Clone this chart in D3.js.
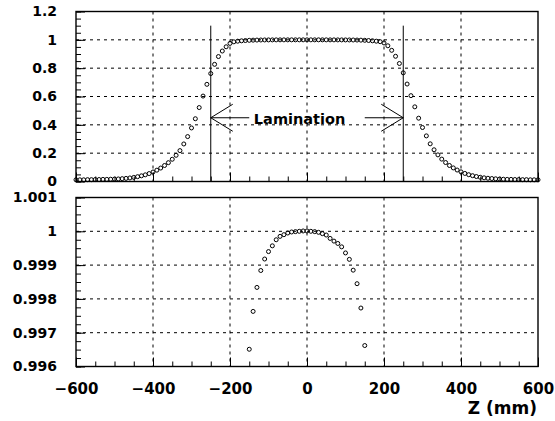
<!DOCTYPE html>
<html>
<head>
<meta charset="utf-8">
<script src="https://cdn.jsdelivr.net/npm/d3@7"></script>
<style>
  html, body { margin: 0; padding: 0; background: #fff; }
  svg { display: block; }
  text { font-family: "DejaVu Sans", sans-serif; font-weight: bold; fill: #000; }
</style>
</head>
<body>
<svg id="chart" width="555" height="421"></svg>
<script>
// ---- data ----
const zPositions = [
  -600,-590,-580,-570,-560,-550,-540,-530,-520,-510,
  -500,-490,-480,-470,-460,-450,-440,-430,-420,-410,
  -400,-390,-380,-370,-360,-350,-340,-330,-320,-310,
  -300,-290,-280,-270,-260,-250,-240,-230,-220,-210,
  -200,-190,-180,-170,-160,-150,-140,-130,-120,-110,
  -100,-90,-80,-70,-60,-50,-40,-30,-20,-10,
  0,10,20,30,40,50,60,70,80,90,
  100,110,120,130,140,150,160,170,180,190,
  200,210,220,230,240,250,260,270,280,290,
  300,310,320,330,340,350,360,370,380,390,
  400,410,420,430,440,450,460,470,480,490,
  500,510,520,530,540,550,560,570,580,590,
  600
];
const efficiency = [
  0.012,0.012,0.012,0.013,0.013,0.014,0.014,0.015,0.015,0.016,
  0.017,0.018,0.020,0.022,0.025,0.029,0.034,0.040,0.047,0.056,
  0.067,0.080,0.095,0.113,0.133,0.157,0.185,0.218,0.265,0.317,
  0.378,0.443,0.522,0.603,0.686,0.762,0.827,0.882,0.921,0.951,
  0.975,0.986,0.9905,0.9930,0.9950,0.99651,0.99763,0.99834,0.99884,0.99918,
  0.99940,0.99957,0.99975,0.99985,0.99990,0.99995,0.99998,0.99999,1.00000,1.00001,
  1.00001,1.00000,0.99999,0.99997,0.99993,0.99989,0.99979,0.99971,0.99964,0.99954,
  0.99936,0.99917,0.99885,0.99845,0.99773,0.99662,0.9952,0.9932,0.9905,0.9870,
  0.978,0.958,0.926,0.884,0.833,0.767,0.688,0.606,0.527,0.447,
  0.381,0.322,0.266,0.224,0.188,0.158,0.134,0.113,0.096,0.081,
  0.068,0.057,0.048,0.041,0.035,0.030,0.026,0.023,0.021,0.019,
  0.017,0.016,0.015,0.015,0.014,0.014,0.013,0.013,0.012,0.012,
  0.012
];
const xTicks = [-600,-400,-200,0,200,400,600];
const topYTicks = [0,0.2,0.4,0.6,0.8,1,1.2];
const botYTicks = [0.996,0.997,0.998,0.999,1,1.001];
const xLabel = "Z (mm)";
const laminationEdges = [-250, 250];
const laminationLineTop = 1.1;
const arrowLevel = 0.45;
const arrowTails = [-150, 150];
const annotationText = "Lamination";
const annotationTextZ = -138;

// ---- layout ----
const svg = d3.select("#chart");
const x = d3.scaleLinear().domain([-600, 600]).range([76, 538]);
const yTop = d3.scaleLinear().domain([0, 1.2]).range([181.5, 11.5]);
const yBot = d3.scaleLinear().domain([0.996, 1.001]).range([366.5, 197.5]);

const data = zPositions.map((z, i) => ({ z, v: efficiency[i] }));

function drawPanel(y, yTicks, minorStep, fmt, showX) {
  const g = svg.append("g");
  const [y0, y1] = y.range();
  const [x0, x1] = x.range();
  // grid
  g.append("g").selectAll("line.vg")
    .data(xTicks.filter(t => t > -600 && t < 600)).join("line")
    .attr("x1", d => x(d)).attr("x2", d => x(d))
    .attr("y1", y1).attr("y2", y0)
    .attr("stroke", "#000").attr("stroke-width", 1).attr("stroke-dasharray", "3,4");
  const dom = y.domain();
  g.append("g").selectAll("line.hg")
    .data(yTicks.filter(t => t > dom[0] + 1e-9 && t < dom[1] - 1e-9)).join("line")
    .attr("x1", x0).attr("x2", x1)
    .attr("y1", d => y(d)).attr("y2", d => y(d))
    .attr("stroke", "#000").attr("stroke-width", 1).attr("stroke-dasharray", "3,4");

  // minor ticks left
  const nMinor = Math.round((dom[1] - dom[0]) / minorStep);
  const minorVals = d3.range(nMinor + 1).map(i => dom[0] + i * minorStep);
  g.append("g").attr("transform", `translate(${x0},0)`)
    .call(d3.axisLeft(y).tickValues(minorVals).tickSize(-5).tickFormat(""))
    .call(s => s.select(".domain").remove())
    .selectAll("line").attr("stroke-width", 1);
  // major ticks + labels left
  g.append("g").attr("transform", `translate(${x0},0)`)
    .call(d3.axisLeft(y).tickValues(yTicks).tickSize(-9).tickPadding(19).tickFormat(fmt))
    .call(s => s.select(".domain").remove())
    .call(s => s.selectAll("text").attr("font-size", 14).attr("font-family", "DejaVu Sans").attr("font-weight", "bold"));

  // bottom minor ticks
  const xMinor = d3.range(25).map(i => -600 + i * 50);
  g.append("g").attr("transform", `translate(0,${y0})`)
    .call(d3.axisBottom(x).tickValues(xMinor).tickSize(-5).tickFormat(""))
    .call(s => s.select(".domain").remove());
  g.append("g").attr("transform", `translate(0,${y0})`)
    .call(d3.axisBottom(x).tickValues(xTicks).tickSize(-9).tickPadding(17)
      .tickFormat(showX ? d3.format("d") : ""))
    .call(s => s.select(".domain").remove())
    .call(s => s.selectAll("text").attr("font-size", 15).attr("font-family", "DejaVu Sans").attr("font-weight", "bold"));

  // frame
  g.append("rect").attr("x", x0).attr("y", y1)
    .attr("width", x1 - x0).attr("height", y0 - y1)
    .attr("fill", "none").attr("stroke", "#000").attr("stroke-width", 1.4);

  // markers
  g.append("g").selectAll("circle")
    .data(data.filter(d => d.v >= dom[0] && d.v <= dom[1])).join("circle")
    .attr("cx", d => x(d.z)).attr("cy", d => y(d.v))
    .attr("r", 2).attr("fill", "none").attr("stroke", "#000").attr("stroke-width", 1);
  return g;
}

drawPanel(yTop, topYTicks, 0.05, d => d3.format("")(d), false);
drawPanel(yBot, botYTicks, 0.00025, d => d === 1 ? "1" : d3.format(".3f")(d), true);

// lamination annotation (top panel)
const ann = svg.append("g").attr("stroke", "#000").attr("stroke-width", 1).attr("fill", "none");
ann.selectAll("line.edge").data(laminationEdges).join("line")
  .attr("x1", d => x(d)).attr("x2", d => x(d))
  .attr("y1", yTop(0)).attr("y2", yTop(laminationLineTop));
laminationEdges.forEach((edge, i) => {
  const tail = arrowTails[i];
  const tipX = x(edge), tipY = yTop(arrowLevel);
  const dir = Math.sign(x(tail) - tipX);
  ann.append("line").attr("x1", x(tail)).attr("x2", tipX).attr("y1", tipY).attr("y2", tipY);
  ann.append("path").attr("d",
    `M${tipX + dir * 22},${tipY - 13.5}L${tipX},${tipY}L${tipX + dir * 22},${tipY + 13.5}`);
});
svg.append("text").attr("x", x(annotationTextZ)).attr("y", yTop(arrowLevel) + 6)
  .attr("font-size", 14.5).text(annotationText);

// x-axis title
svg.append("text").attr("x", 537).attr("y", 414).attr("text-anchor", "end")
  .attr("font-size", 17).text(xLabel);
</script>
</body>
</html>
